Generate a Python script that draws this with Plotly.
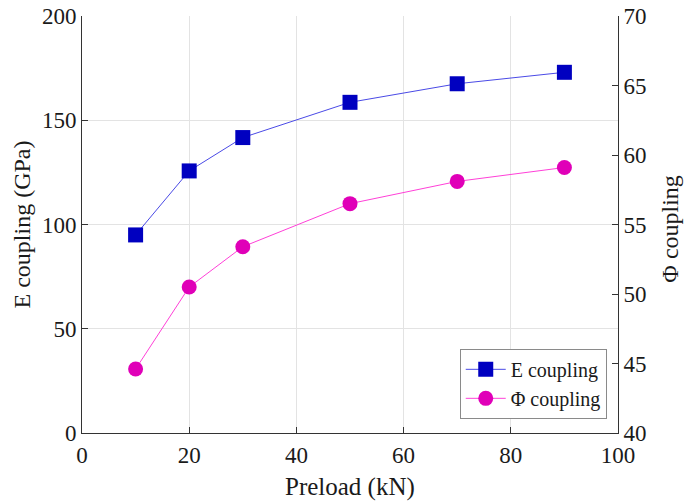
import plotly.graph_objects as go

# Preload levels (kN)
preload = [10, 20, 30, 50, 70, 90]
# Coupling stiffness (GPa), left axis
e_coupling = [95, 125.7, 141.7, 158.6, 167.5, 173]
# Coupling parameter Φ, right axis
phi_coupling = [44.6, 50.5, 53.4, 56.5, 58.1, 59.1]

x_ticks = [0, 20, 40, 60, 80, 100]
y_ticks = [0, 50, 100, 150, 200]
y2_ticks = [40, 45, 50, 55, 60, 65, 70]

FONT = "Liberation Serif, Times New Roman, serif"
AXIS_COLOR = "#333333"
TEXT_COLOR = "#1a1a1a"
GRID_COLOR = "#e3e3e3"

fig = go.Figure()
fig.add_trace(go.Scatter(
    x=preload, y=e_coupling, name="E coupling", mode="lines+markers",
    line=dict(color="#4a4ae6", width=1),
    marker=dict(symbol="square", size=15, color="#0000c0"),
    yaxis="y",
))
fig.add_trace(go.Scatter(
    x=preload, y=phi_coupling, name="Φ coupling", mode="lines+markers",
    line=dict(color="#ff40d8", width=1),
    marker=dict(symbol="circle", size=15, color="#e000b8"),
    yaxis="y2",
))

common_axis = dict(
    showline=True, linecolor=AXIS_COLOR, linewidth=1,
    ticks="inside", ticklen=6, tickcolor=AXIS_COLOR,
    zeroline=False, automargin=False,
    tickfont=dict(family=FONT, size=23, color=TEXT_COLOR),
)

fig.update_layout(
    width=684, height=501,
    margin=dict(l=82, r=66, t=16, b=68),
    paper_bgcolor="white", plot_bgcolor="white",
    font=dict(family=FONT, size=23, color=TEXT_COLOR),
    showlegend=True,
    legend=dict(
        x=0.979, y=0.034, xanchor="right", yanchor="bottom",
        bgcolor="white", bordercolor="#8a8a8a", borderwidth=1,
        font=dict(family=FONT, size=20, color=TEXT_COLOR),
        tracegroupgap=0, itemwidth=40,
    ),
    xaxis=dict(
        range=[0, 100], tickvals=x_ticks, ticktext=[str(v) for v in x_ticks],
        showgrid=True, gridcolor=GRID_COLOR, gridwidth=1,
        ticklabelstandoff=1,
        **common_axis,
    ),
    yaxis=dict(
        range=[0, 200], tickvals=y_ticks, ticktext=[str(v) for v in y_ticks],
        showgrid=True, gridcolor=GRID_COLOR, gridwidth=1,
        **common_axis,
    ),
    yaxis2=dict(
        range=[40, 70], tickvals=y2_ticks, ticktext=[str(v) for v in y2_ticks],
        overlaying="y", side="right", showgrid=False,
        **common_axis,
    ),
    annotations=[
        dict(text="Preload (kN)", xref="paper", yref="paper", x=0.5, y=-0.13,
             xanchor="center", yanchor="middle", showarrow=False,
             font=dict(family=FONT, size=25, color=TEXT_COLOR)),
        dict(text="E coupling (GPa)", xref="paper", yref="paper", x=-0.112, y=0.5,
             xanchor="center", yanchor="middle", textangle=-90, showarrow=False,
             font=dict(family=FONT, size=24, color=TEXT_COLOR)),
        dict(text="Φ coupling", xref="paper", yref="paper", x=1.097, y=0.49,
             xanchor="center", yanchor="middle", textangle=-90, showarrow=False,
             font=dict(family=FONT, size=24, color=TEXT_COLOR)),
    ],
)

fig.write_html("out.html")
